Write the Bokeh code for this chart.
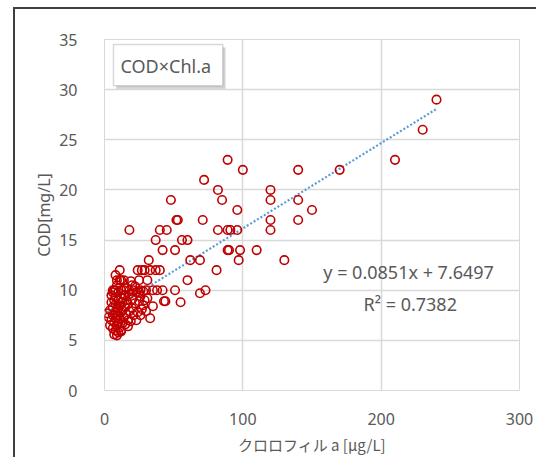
from bokeh.plotting import figure
from bokeh.models import Range1d, FixedTicker, BoxAnnotation, Label
from bokeh.embed import file_html
from bokeh.resources import INLINE

# ---- data ----
chl_a = [
    240, 230, 210, 170, 140, 140, 150, 140,
    89, 100, 72, 82, 85, 96, 71, 82, 89, 91, 96,
    120, 120, 120, 120,
    48, 52, 53, 18, 40, 45,
    37, 56, 60,
    89, 90, 98, 110, 42, 51,
    97, 130, 62, 69, 32,
    81, 11, 24, 27, 29, 33, 37, 40,
    9, 12, 31, 60, 25,
    6, 8, 14, 18, 21, 26, 30, 35, 38, 42, 51, 73, 69,
    55, 43, 44, 35, 33,
    2, 3, 4, 4, 5, 5, 5, 6, 6, 6, 7, 7, 7, 7, 8, 8, 8, 8, 8,
    9, 9, 9, 9, 10, 10, 10, 10, 10, 10, 11, 11, 11, 11, 12, 12, 12,
    13, 13, 13, 14, 14, 15, 15, 16, 16, 17, 17, 18, 18, 19, 20, 20,
    21, 22, 23, 24, 25, 26, 27, 28, 29, 30, 22, 19, 14, 16, 8, 12, 6, 9,
    15, 20, 25, 28, 31, 23, 17, 12, 26,
]
cod = [
    29, 26, 23, 22, 22, 19, 18, 17,
    23, 22, 21, 20, 19, 18, 17, 16, 16, 16, 16,
    20, 19, 17, 16,
    19, 17, 17, 16, 16, 16,
    15, 15, 15,
    14, 14, 14, 14, 14, 14,
    13, 13, 13, 13, 13,
    12, 12, 12, 12, 12, 12, 12, 12,
    11, 11, 11, 11, 11,
    10, 10, 10, 10, 10, 10, 10, 10, 10, 10, 10, 10, 9.7,
    8.8, 8.9, 8.9, 8.4, 7.2,
    7.7, 7.3, 6.5, 8.0, 7.0, 8.8, 9.5, 6.2, 7.5, 8.3, 5.6, 6.8, 9.0, 10.0, 6.0, 7.2, 7.8, 8.6, 9.3,
    6.5, 7.0, 8.0, 10.5, 5.8, 6.8, 7.5, 8.2, 9.0, 9.8, 6.3, 7.1, 8.5, 11.0, 7.8, 9.2, 10.0,
    6.7, 8.0, 8.8, 7.3, 9.5, 6.6, 8.3, 7.6, 9.0, 7.0, 8.6, 7.9, 9.6, 6.9, 8.2, 9.1,
    7.5, 8.7, 9.8, 7.8, 8.9, 9.4, 8.1, 9.9, 9.0, 7.9, 10.4, 10.9, 11.0, 10.2, 11.5, 6.0, 9.8, 5.5,
    9.5, 10.5, 9.8, 8.5, 9.2, 7.0, 6.4, 5.9, 7.5,
]
slope = 0.0851
intercept = 7.6497
r_squared = 0.7382
x_ticks = [0, 100, 200, 300]
y_ticks = [0, 5, 10, 15, 20, 25, 30, 35]
box_title = "COD×Chl.a"
x_title = "クロロフィル a [μg/L]"
y_title = "COD[mg/L]"

TXT = "#595959"
GRID = "#d9d9d9"
FONT = "Noto Sans"

p = figure(width=536, height=457, x_range=Range1d(0, 300), y_range=Range1d(0, 35),
           output_backend="svg", toolbar_location=None,
           min_border_left=104, min_border_right=17, min_border_top=39, min_border_bottom=67)
# dark chart-area border on the left and top (drawn behind a transparent canvas)
p.styles = {
    "background-color": "white",
    "background-image": "linear-gradient(#404040, #404040), linear-gradient(#404040, #404040)",
    "background-size": "2px 100%, 100% 2px",
    "background-position": "13px 7px, 13px 7px",
    "background-repeat": "no-repeat",
}
p.background_fill_color = "white"
p.border_fill_color = None
p.outline_line_color = GRID

p.xaxis.ticker = FixedTicker(ticks=x_ticks)
p.yaxis.ticker = FixedTicker(ticks=y_ticks)
for ax in (p.xaxis[0], p.yaxis[0]):
    ax.axis_line_color = None
    ax.major_tick_line_color = None
    ax.minor_tick_line_color = None
    ax.major_label_text_font = FONT
    ax.major_label_text_font_size = "16px"
    ax.major_label_text_color = TXT
    ax.axis_label_text_font_style = "normal"
    ax.axis_label_text_color = TXT
    ax.axis_label_text_font_size = "16px"
p.xaxis.axis_label = x_title
p.xaxis.axis_label_text_font = "Noto Sans CJK JP"
p.xaxis.axis_label_text_font_size = "15px"
p.yaxis.axis_label = y_title
p.yaxis.axis_label_text_font = FONT
p.xaxis.major_label_standoff = 16
p.xaxis.axis_label_standoff = 6
p.yaxis.major_label_standoff = 21
p.yaxis.axis_label_standoff = 1

p.xgrid.grid_line_color = GRID
p.ygrid.grid_line_color = GRID
p.xgrid.grid_line_width = 1.5
p.ygrid.grid_line_width = 1.5

# trendline from the fitted coefficients over the data range
x0, x1 = min(chl_a), max(chl_a)
p.line([x0, x1], [slope * x0 + intercept, slope * x1 + intercept],
       line_color="#5b9bd5", line_width=2.2, line_dash="2 2")

p.scatter(chl_a, cod, marker="circle", size=8.5, fill_color=None,
          line_color="#c00000", line_width=1.6)

# text box with shadow
p.add_layout(BoxAnnotation(left=8.5, right=87.5, top=34.2, bottom=30.1,
                           fill_color="#7f7f7f", fill_alpha=0.35, line_color=None))
p.add_layout(BoxAnnotation(left=6.5, right=85.5, top=34.5, bottom=30.4,
                           fill_color="white", fill_alpha=1.0,
                           line_color="#7f7f7f", line_width=1.5))
p.add_layout(Label(x=11.6, y=32.4, text=box_title, text_font=FONT,
                   text_font_size="18px", text_color=TXT, text_baseline="middle"))

p.add_layout(Label(x=281.5, y=11.8, text=f"y = {slope}x + {intercept}", text_font=FONT,
                   text_font_size="18px", text_color=TXT, text_align="right",
                   text_baseline="middle"))
p.add_layout(Label(x=221, y=8.64, text=f"R² = {r_squared}", text_font=FONT,
                   text_font_size="18px", text_color=TXT, text_align="center",
                   text_baseline="middle"))

open("out.html", "w").write(file_html(p, INLINE))
